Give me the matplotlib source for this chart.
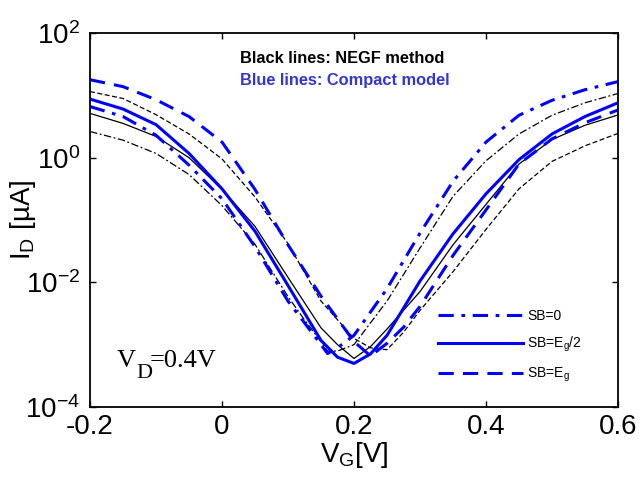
import matplotlib
matplotlib.use("Agg")
import matplotlib.pyplot as plt

plt.rcParams['font.family'] = ['Liberation Sans', 'DejaVu Sans']

# NEGF results (black) and compact model (blue), I_D in uA vs V_G in V
vg_sb0 = [-0.2, -0.15, -0.1, -0.05, 0.0, 0.05, 0.1, 0.125, 0.15, 0.16, 0.175, 0.2, 0.25, 0.3, 0.35, 0.4, 0.45, 0.5, 0.55, 0.6]
negf_sb0 = [2.63, 1.91, 1.17, 0.537, 0.170, 0.0407, 5.9e-3, 2.5e-3, 1.12e-3, 7.9e-4, 7.9e-4, 1.0e-3,
            5.0e-3, 0.0355, 0.240, 0.891, 2.40, 4.79, 7.59, 10.7]
model_sb0 = [6.61, 4.57, 2.29, 0.759, 0.219, 0.0372, 5.0e-3, 2.24e-3, 1.0e-3, 7.2e-4, 8.9e-4, 1.41e-3,
             7.9e-3, 0.0617, 0.417, 1.78, 4.79, 8.32, 12.3, 16.6]

vg_half = [-0.2, -0.15, -0.1, -0.05, 0.0, 0.05, 0.1, 0.15, 0.175, 0.2, 0.225, 0.25, 0.3, 0.35, 0.4, 0.45, 0.5, 0.55, 0.6]
negf_half = [5.13, 3.55, 2.19, 1.0, 0.309, 0.079, 0.012, 1.86e-3, 1.0e-3, 6.0e-4, 9.3e-4, 1.78e-3,
             7.1e-3, 0.040, 0.178, 0.79, 1.95, 3.31, 4.84]
model_half = [8.71, 6.03, 3.39, 1.17, 0.316, 0.066, 8.9e-3, 1.17e-3, 6.3e-4, 5.0e-4, 7.1e-4, 1.41e-3,
              0.0105, 0.060, 0.263, 0.93, 2.40, 4.57, 7.59]

vg_eg = [-0.2, -0.15, -0.1, -0.05, 0.0, 0.05, 0.1, 0.15, 0.2, 0.225, 0.25, 0.275, 0.3, 0.35, 0.4, 0.45, 0.5, 0.55, 0.6]
negf_eg = [11.5, 8.9, 4.9, 2.4, 0.955, 0.234, 0.0417, 5.0e-3, 1.26e-3, 8.9e-4, 8.3e-4, 1.58e-3, 3.55e-3,
           0.0148, 0.0708, 0.316, 0.871, 1.55, 2.45]
model_eg = [17.8, 13.8, 8.51, 4.57, 1.78, 0.309, 0.040, 6.0e-3, 1.12e-3, 6.6e-4, 1.05e-3, 1.9e-3, 4.1e-3,
            0.027, 0.145, 0.79, 2.0, 3.63, 5.82]

legend_labels = ['SB=0', r'SB=$\mathdefault{E_g}$/2', r'SB=$\mathdefault{E_g}$']

blue = '#0000ff'
dashdot = (0, (5, 2.5, 1.2, 2.5))
dashed = (0, (5, 3))

fig = plt.figure(figsize=(6.39, 4.84), dpi=100)
ax = fig.add_axes([90/639, 1-407/484, 528/639, 374/484])

ax.semilogy(vg_sb0, negf_sb0, color='k', lw=0.9, linestyle=(0, (6, 2, 1.5, 2)))
ax.semilogy(vg_half, negf_half, color='k', lw=0.9)
ax.semilogy(vg_eg, negf_eg, color='k', lw=0.9, linestyle=(0, (4, 2)))

l1, = ax.semilogy(vg_sb0, model_sb0, color=blue, lw=2.2, linestyle=dashdot)
l2, = ax.semilogy(vg_half, model_half, color=blue, lw=2.2)
l3, = ax.semilogy(vg_eg, model_eg, color=blue, lw=2.2, linestyle=dashed)

ax.set_xlim(-0.2, 0.6)
ax.set_ylim(1e-4, 1e2)
ax.set_xticks([-0.2, 0, 0.2, 0.4, 0.6])
ax.set_xticklabels(['-0.2', '0', '0.2', '0.4', '0.6'])
ax.set_yticks([1e-4, 1e-2, 1e0, 1e2])
ax.minorticks_off()
ax.tick_params(direction='in', top=True, right=True, length=4, width=1, labelsize=20, pad=5)
ax.tick_params(axis='y', pad=7)
for s in ax.spines.values():
    s.set_linewidth(1.3)

ax.set_xlabel(r'$\mathdefault{V_G}$[V]', fontsize=20, labelpad=0)
ax.set_ylabel(r'$\mathdefault{I_D}$ [µA]', fontsize=20)
ax.yaxis.set_label_coords(-0.098, 0.5)

ax.text(0.284, 0.933, 'Black lines: NEGF method', transform=ax.transAxes,
        fontsize=11.8, fontweight='bold', color='k', va='center')
ax.text(0.284, 0.874, 'Blue lines: Compact model', transform=ax.transAxes,
        fontsize=11.8, fontweight='bold', color='#3535d5', va='center')

serif = ['Liberation Serif', 'DejaVu Serif']
ax.text(0.051, 0.108, 'V', transform=ax.transAxes, fontsize=19, family=serif, va='baseline')
ax.text(0.087, 0.078, 'D', transform=ax.transAxes, fontsize=16, family=serif, va='baseline')
ax.text(0.112, 0.108, '=0.4V', transform=ax.transAxes, fontsize=19, family=serif, va='baseline')

ax.legend([l1, l2, l3], legend_labels, loc='upper left', bbox_to_anchor=(0.659, 0.262),
          frameon=False, fontsize=10, handlelength=6.1, handletextpad=0.3,
          labelspacing=0.85, borderpad=0, borderaxespad=0)

fig.savefig('out.png', dpi=100)
